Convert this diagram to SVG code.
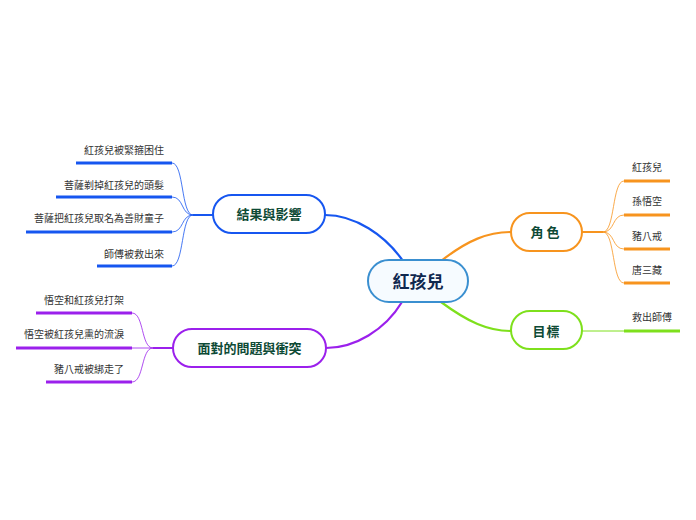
<svg xmlns="http://www.w3.org/2000/svg" width="696" height="520" viewBox="0 0 696 520">
<style>
.leaf{font-family:"Liberation Sans","Noto Sans CJK TC",sans-serif;font-size:10px;fill:#333}
.br{font-family:"Liberation Sans","Noto Sans CJK TC",sans-serif;font-size:13px;font-weight:bold;fill:#0d4a35}
.main{font-family:"Liberation Sans","Noto Sans CJK TC",sans-serif;font-size:17px;font-weight:bold;fill:#10284f}
.c{fill:none;stroke-linecap:round}
</style>
<rect width="696" height="520" fill="#fff"/>
<g id="connectors">
  <path class="c" d="M441,261 C468,240 488,232 511,232" stroke="#f7941e" stroke-width="2.2"/>
  <path class="c" d="M441,302 C468,322 488,331 511,331" stroke="#7ee01c" stroke-width="2.2"/>
  <path class="c" d="M403,261 C385,235 355,215 325,215" stroke="#1656f0" stroke-width="2.2"/>
  <path class="c" d="M402,302 C385,330 355,348 326,348" stroke="#9b20ec" stroke-width="2.2"/>
  <g stroke="#f7941e" fill="none">
    <path d="M582,232 L603,232" stroke-width="2"/>
    <path d="M603,232 C615,232 612,181 624,181" stroke-width="0.8"/>
    <path d="M603,232 C615,232 612,215 624,215" stroke-width="0.8"/>
    <path d="M603,232 C615,232 612,249 624,249" stroke-width="0.8"/>
    <path d="M603,232 C615,232 612,283 624,283" stroke-width="0.8"/>
    <path d="M624,181 H670 M624,215 H670 M624,249 H670 M624,283 H670" stroke-width="3"/>
  </g>
  <g stroke="#7ee01c" fill="none">
    <path d="M582,331 L624,331" stroke-width="1"/>
    <path d="M624,331 H680" stroke-width="3"/>
  </g>
  <g stroke="#1656f0" fill="none">
    <path d="M213,215 L193,215" stroke-width="2"/>
    <path d="M193,215 C181,215 184,163 172,163" stroke-width="0.8"/>
    <path d="M193,215 C181,215 184,197 172,197" stroke-width="0.8"/>
    <path d="M193,215 C181,215 184,232 172,232" stroke-width="0.8"/>
    <path d="M193,215 C181,215 184,266 172,266" stroke-width="0.8"/>
    <path d="M76,163 H172 M56,197 H172 M26,232 H172 M97,266 H172" stroke-width="3"/>
  </g>
  <g stroke="#9b20ec" fill="none">
    <path d="M173,348 L153,348" stroke-width="2"/>
    <path d="M153,348 C141,348 144,313 132,313" stroke-width="0.8"/>
    <path d="M153,348 L132,348" stroke-width="0.8"/>
    <path d="M153,348 C141,348 144,382 132,382" stroke-width="0.8"/>
    <path d="M36,313 H132 M16,348 H132 M46,382 H132" stroke-width="3"/>
  </g>
</g>
<g id="center">
  <rect x="368" y="260" width="100" height="42" rx="21" fill="#f6fbff" stroke="#3a8fd0" stroke-width="2"/>
  <text class="main" x="418" y="288" text-anchor="middle">紅孩兒</text>
</g>
<g id="roles">
  <rect x="511" y="213" width="71" height="38" rx="19" fill="#fff" stroke="#f7941e" stroke-width="2"/>
  <text class="br" x="546.5" y="237" text-anchor="middle" letter-spacing="3">角色</text>
</g>
<g id="goal">
  <rect x="511" y="311" width="71" height="38" rx="19" fill="#fff" stroke="#7ee01c" stroke-width="2"/>
  <text class="br" x="546.5" y="335.5" text-anchor="middle" letter-spacing="1">目標</text>
</g>
<g id="result">
  <rect x="213" y="195" width="112" height="38" rx="19" fill="#fff" stroke="#1656f0" stroke-width="2"/>
  <text class="br" x="269" y="219" text-anchor="middle">結果與影響</text>
</g>
<g id="conflict">
  <rect x="173" y="329" width="153" height="38" rx="19" fill="#fff" stroke="#9b20ec" stroke-width="2"/>
  <text class="br" x="249.5" y="353" text-anchor="middle">面對的問題與衝突</text>
</g>
<g id="leaves">
  <text class="leaf" x="632" y="171">紅孩兒</text>
  <text class="leaf" x="632" y="205">孫悟空</text>
  <text class="leaf" x="632" y="240">豬八戒</text>
  <text class="leaf" x="632" y="274">唐三藏</text>
  <text class="leaf" x="632" y="321">救出師傅</text>
  <text class="leaf" x="164" y="154" text-anchor="end">紅孩兒被緊箍困住</text>
  <text class="leaf" x="164" y="189" text-anchor="end">菩薩剃掉紅孩兒的頭髮</text>
  <text class="leaf" x="164" y="222" text-anchor="end">菩薩把紅孩兒取名為善財童子</text>
  <text class="leaf" x="164" y="258" text-anchor="end">師傅被救出來</text>
  <text class="leaf" x="124" y="304" text-anchor="end">悟空和紅孩兒打架</text>
  <text class="leaf" x="124" y="338" text-anchor="end">悟空被紅孩兒熏的流淚</text>
  <text class="leaf" x="124" y="373" text-anchor="end">豬八戒被綁走了</text>
</g>
</svg>
